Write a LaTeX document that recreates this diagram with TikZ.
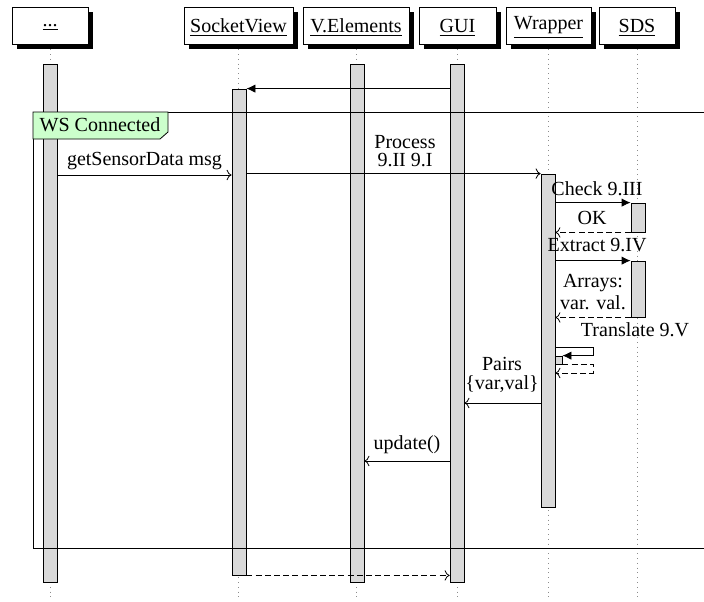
\documentclass[tikz,border=0pt]{standalone}
\usepackage{fontspec}
\setmainfont{Liberation Serif}
\usetikzlibrary{arrows.meta,shadows}
\newcommand\hdrtext[1]{\raisebox{-1pt}[\height][\depth]{\underline{#1}}}
\begin{document}
\begin{tikzpicture}[x=0.5pt,y=-0.5pt,
  hdr/.style={draw, fill=white, minimum height=18.5pt, inner sep=0pt,
    font=\fontsize{10}{12}\selectfont,
    general shadow={fill=black, shadow xshift=2.25pt, shadow yshift=-2.25pt}},
  lifeline/.style={black!45, dotted},
  actbar/.style={draw, fill=black!15, minimum width=7pt, inner sep=0pt},
  msg/.style={->},
  call/.style={-{Latex[length=4.5pt,width=4.2pt]}},
  ret/.style={->, dash pattern=on 3pt off 1.6pt},
  lbl/.style={font=\fontsize{10}{12}\selectfont, inner sep=0pt, anchor=base},
  framelbl/.style={draw, fill=green!20},
]
\useasboundingbox (0,0) rectangle (704,601);
\coordinate (bot) at (0,601);
% headers
\node[hdr, minimum width=38pt]   (hdots) at (50,25.5)    {\hdrtext{...}};
\node[hdr, minimum width=54.5pt] (hsv)   at (238.5,25.5) {\hdrtext{SocketView}};
\node[hdr, minimum width=53pt]   (hve)   at (356,25.5)   {\hdrtext{V.Elements}};
\node[hdr, minimum width=38.5pt] (hgui)  at (457.5,25.5) {\hdrtext{GUI}};
\node[hdr, minimum width=42.5pt] (hwr)   at (548.5,25.5) {\hdrtext{Wrapper}};
\node[hdr, minimum width=38pt]   (hsds)  at (637,25.5)   {\hdrtext{SDS}};
% lifelines
\foreach \h in {hdots,hsv,hve,hgui,hwr,hsds}
  \draw[lifeline] ([yshift=-2.4pt]\h.south) -- (\h.south |- bot);
% activation bars
\node[actbar, minimum height=259pt]   (adots) at (50,323)    {};
\node[actbar, minimum height=243pt]   (asv)   at (239,332)   {};
\node[actbar, minimum height=259pt]   (ave)   at (357,323)   {};
\node[actbar, minimum height=259pt]   (agui)  at (457,323)   {};
\node[actbar, minimum height=166.5pt] (awr)   at (548,340.5) {};
\node[actbar, minimum height=14.5pt]  (asds1) at (638,217.5) {};
\node[actbar, minimum height=28pt]    (asds2) at (638,289)   {};
\node[actbar, minimum width=3.5pt, minimum height=4pt] (awr2) at (558.5,360) {};
% frame
\draw (33,112) rectangle (730,548);
\draw[framelbl] (33,112) -- (168,112) -- (168,132) -- (160,139) -- (33,139) -- cycle;
\node[lbl] (wslbl) at (100,131.7) {WS Connected};
% messages
\draw[call] (agui.west |- asv.north) -- (asv.north east);
\draw[msg] (adots.east |- 0,175) -- (asv.west |- 0,175);
\node[lbl] (lgsd) at (144.5,165.7) {getSensorData msg};
\draw[msg] (asv.east |- awr.north) -- (awr.north west);
\node[lbl] (lproc1) at (405,148.3) {Process};
\node[lbl] (lproc2) at (405,166.7) {9.II 9.I};
\draw[call] (awr.east |- asds1.north) -- (asds1.north west);
\node[lbl] (lcheck) at (597,195) {Check 9.III};
\draw[ret] (asds1.south west) -- (awr.east |- asds1.south);
\node[lbl] (lok) at (592,224) {OK};
\draw[call] (awr.east |- asds2.north) -- (asds2.north west);
\node[lbl] (lextr) at (597,251.7) {Extract 9.IV};
\draw[ret] (asds2.south west) -- (awr.east |- asds2.south);
\node[lbl] (larr1) at (593,287.7) {Arrays:};
\node[lbl] (larr2) at (593,309.3) {var. val.};
\coordinate (t1) at (593,347);
\coordinate (t2) at (593,373);
\draw[call] (awr.east |- t1) -- (t1) -- (t1 |- awr2.north) -- (awr2.north east);
\draw[ret] (awr2.south east) -- (t1 |- awr2.south) -- (t2) -- (awr.east |- t2);
\node[lbl] (ltrans) at (635,336.7) {Translate 9.V};
\draw[msg] (awr.west |- 0,403) -- (agui.east |- 0,403);
\node[lbl] (lpair1) at (502,370.7) {Pairs};
\node[lbl] (lpair2) at (502,389.3) {\{var,val\}};
\draw[msg] (agui.west |- 0,461) -- (ave.east |- 0,461);
\node[lbl] (lupd) at (407,449.3) {update()};
\draw[ret] (asv.south east) -- (agui.west |- asv.south);
\end{tikzpicture}
\end{document}
